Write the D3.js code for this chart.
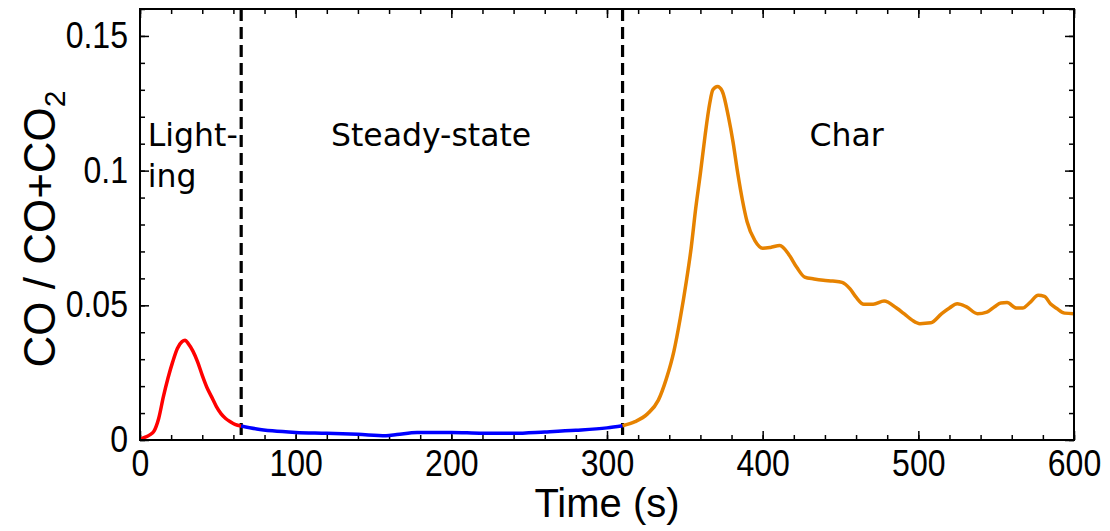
<!DOCTYPE html>
<html><head><meta charset="utf-8">
<script src="https://cdn.jsdelivr.net/npm/d3@7"></script>
<style>body{margin:0;background:#fff}svg{display:block}</style>
</head><body><svg id="c" width="1110" height="531"></svg>
<script>
// ---- data ----
const lightingTime = [0,3,6,9,12,15,18,21,24,27,29,31,34,37,40,43,46,49,52,55,58,61,65];
const lightingRatio = [0.0003,0.001,0.0018,0.0033,0.008,0.016,0.023,0.029,0.034,0.0365,0.037,0.0358,0.033,0.029,0.024,0.0195,0.016,0.0125,0.0098,0.008,0.0068,0.0058,0.0052];
const steadyTime = [65,75,85,100,120,140,158,165,178,200,220,240,260,280,300,310];
const steadyRatio = [0.0052,0.0041,0.0034,0.0028,0.0025,0.0021,0.0016,0.002,0.0028,0.0028,0.0025,0.0025,0.003,0.0036,0.0045,0.0053];
const charTime = [310,318,326,333,338,343,347,351,354,357,360,363,366,368,371,374,378,381,384,387,390,395,400,405,411,417,422,427,433,439,445,451,456,460,465,471,478,486,491,496,501,508,515,520,525,531,538,544,549,553,557,563,567,572,577,581,585,589,594,600];
const charRatio = [0.0053,0.0068,0.0097,0.0148,0.0225,0.033,0.045,0.059,0.071,0.086,0.099,0.113,0.125,0.13,0.1312,0.1295,0.12,0.1105,0.099,0.089,0.081,0.074,0.0712,0.0715,0.0722,0.0687,0.064,0.0605,0.0598,0.0593,0.059,0.0585,0.0562,0.053,0.0504,0.0504,0.0516,0.049,0.0468,0.0445,0.0432,0.0435,0.0469,0.049,0.0506,0.0494,0.0469,0.0475,0.0495,0.0509,0.051,0.049,0.049,0.0512,0.0537,0.0533,0.0505,0.0488,0.0471,0.0469];
const phaseBoundaries = [65, 310];
const phaseLabels = [
  {lines:["Light-","ing"], t:5, anchor:"start"},
  {lines:["Steady-state"], t:187, anchor:"middle"},
  {lines:["Char"], t:454, anchor:"middle"}
];
const xTicks = [0,100,200,300,400,500,600];
const yTicks = [0,0.05,0.1,0.15];
const yTickLabels = ["0","0.05","0.1","0.15"];

// ---- layout ----
const W = 1110, H = 531;
const m = {left:140, right:36, top:9, bottom:91};
const iw = W - m.left - m.right, ih = H - m.top - m.bottom;
const svg = d3.select("#c");
const g = svg.append("g").attr("transform",`translate(${m.left},${m.top})`);
const x = d3.scaleLinear().domain([0,600]).range([0,iw]);
const y = d3.scaleLinear().domain([0,0.16]).range([ih,0]);

const xMinor = d3.range(0,601,20);
const yMinor = d3.range(0,0.1601,0.01);

function styleAxis(sel){
  sel.select(".domain").remove();
  sel.selectAll(".tick line").attr("stroke","#000").attr("stroke-width",1.5);
}
// minor ticks (all four sides, inward)
g.append("g").attr("transform",`translate(0,${ih})`).call(d3.axisBottom(x).tickValues(xMinor).tickSize(-5).tickFormat("")).call(styleAxis);
g.append("g").call(d3.axisTop(x).tickValues(xMinor).tickSize(-5).tickFormat("")).call(styleAxis);
g.append("g").call(d3.axisLeft(y).tickValues(yMinor).tickSize(-5).tickFormat("")).call(styleAxis);
g.append("g").attr("transform",`translate(${iw},0)`).call(d3.axisRight(y).tickValues(yMinor).tickSize(-5).tickFormat("")).call(styleAxis);
// major ticks
const xb = g.append("g").attr("transform",`translate(0,${ih})`).call(d3.axisBottom(x).tickValues(xTicks).tickSize(-9).tickPadding(10).tickFormat(d3.format("d"))).call(styleAxis);
g.append("g").call(d3.axisTop(x).tickValues(xTicks).tickSize(-9).tickFormat("")).call(styleAxis);
const yl = g.append("g").call(d3.axisLeft(y).tickValues(yTicks).tickSize(-9).tickPadding(12).tickFormat((d,i)=>yTickLabels[i])).call(styleAxis);
g.append("g").attr("transform",`translate(${iw},0)`).call(d3.axisRight(y).tickValues(yTicks).tickSize(-9).tickFormat("")).call(styleAxis);
[xb,yl].forEach(a=>a.selectAll("text").attr("font-family","Liberation Sans, Arial, sans-serif").attr("font-size",36).attr("fill","#000")
  .each(function(){ const L=this.getComputedTextLength(); d3.select(this).attr("textLength",L*0.89).attr("lengthAdjust","spacingAndGlyphs"); }));
xb.selectAll("text").attr("dy","0.72em");

// phase boundaries
g.selectAll(".bnd").data(phaseBoundaries).join("line")
  .attr("x1",d=>x(d)).attr("x2",d=>x(d)).attr("y1",0).attr("y2",ih)
  .attr("stroke","#000").attr("stroke-width",3.2).attr("stroke-dasharray","12,6");

// curves
const line = d3.line().x(d=>x(d[0])).y(d=>y(d[1])).curve(d3.curveMonotoneX);
const series = [
  {t:lightingTime, v:lightingRatio, c:"#ff0000"},
  {t:steadyTime, v:steadyRatio, c:"#0000ff"},
  {t:charTime, v:charRatio, c:"#e68200"}
];
series.forEach(s=>{
  g.append("path").datum(d3.zip(s.t,s.v)).attr("d",line)
   .attr("fill","none").attr("stroke",s.c).attr("stroke-width",3.5).attr("stroke-linejoin","round");
});

// frame
g.append("rect").attr("width",iw).attr("height",ih).attr("fill","none").attr("stroke","#000").attr("stroke-width",2);

// phase labels
phaseLabels.forEach(p=>{
  const t = g.append("text").attr("font-family","DejaVu Sans, Verdana, sans-serif").attr("font-size",31.5)
    .attr("text-anchor",p.anchor).attr("fill","#000");
  p.lines.forEach((ln,i)=>{
    t.append("tspan").attr("x",x(p.t)).attr("y",137 + i*41).text(ln);
  });
});

// axis titles
svg.append("text").attr("x",m.left+iw/2).attr("y",517).attr("text-anchor","middle")
  .attr("font-family","Liberation Sans, Arial, sans-serif").attr("font-size",40).text("Time (s)");
const yt = svg.append("text").attr("transform",`translate(55,229) rotate(-90)`).attr("text-anchor","middle")
  .attr("font-family","Liberation Sans, Arial, sans-serif").attr("font-size",44);
yt.append("tspan").text("CO / CO+CO");
yt.append("tspan").attr("font-size",30).attr("dy",10).text("2");
</script></body></html>
